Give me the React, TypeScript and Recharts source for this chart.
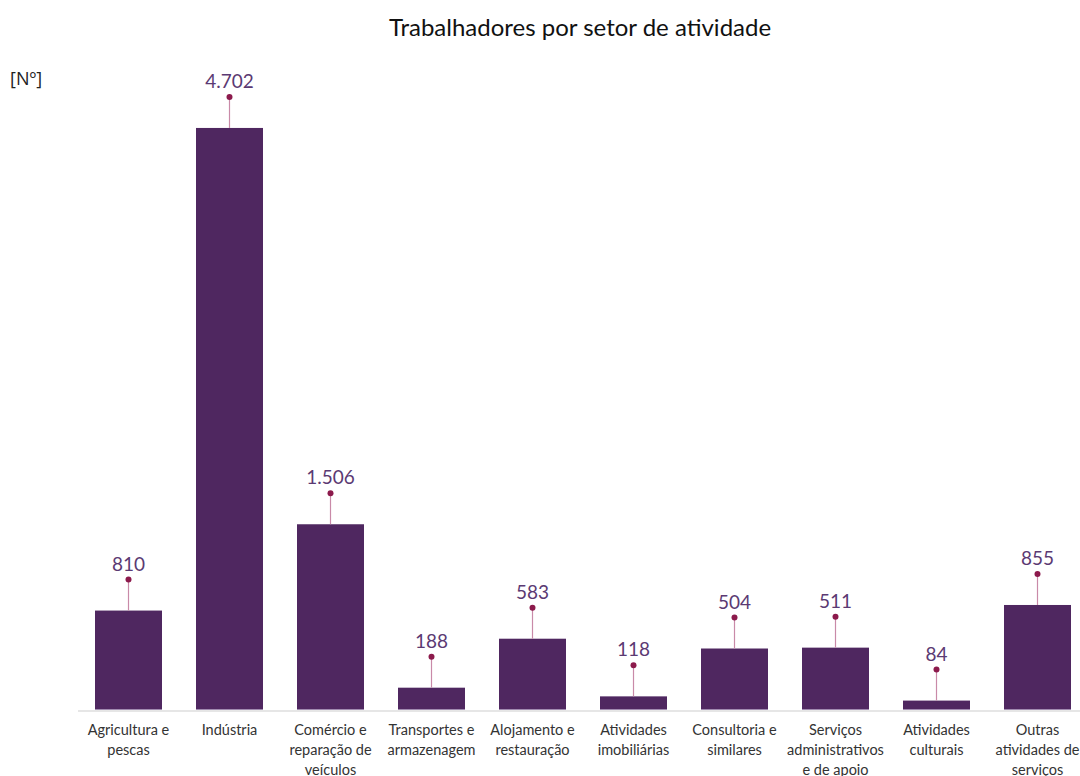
import React from 'react';
import { BarChart, Bar, XAxis, YAxis, LabelList } from 'recharts';

const categories = [
  'Agricultura e\npescas',
  'Indústria',
  'Comércio e\nreparação de\nveículos',
  'Transportes e\narmazenagem',
  'Alojamento e\nrestauração',
  'Atividades\nimobiliárias',
  'Consultoria e\nsimilares',
  'Serviços\nadministrativos\ne de apoio',
  'Atividades\nculturais',
  'Outras\natividades de\nserviços',
];
const values = [810, 4702, 1506, 188, 583, 118, 504, 511, 84, 855];
const valueLabels = ['810', '4.702', '1.506', '188', '583', '118', '504', '511', '84', '855'];

const data = categories.map((c, i) => ({ name: c, value: values[i], label: valueLabels[i] }));

const FONT = 'Lato, "Open Sans", sans-serif';

const Tick = (props: any) => {
  const { x, y, payload } = props;
  const lines = String(payload.value).split('\n');
  return (
    <text x={x} y={y} textAnchor="middle" fontFamily={FONT} fontSize={14.5} fill="#333">
      {lines.map((l, i) => (
        <tspan key={i} x={x} dy={i === 0 ? 16 : 20}>{l}</tspan>
      ))}
    </text>
  );
};

const PinLabel = (props: any) => {
  const { x, y, width, index } = props;
  const cx = x + width / 2;
  const dotY = y - 31;
  return (
    <g>
      <line x1={cx} y1={y} x2={cx} y2={dotY} stroke="#c98aa8" strokeWidth={1.2} />
      <circle cx={cx} cy={dotY} r={3} fill="#8c1a4c" />
      <text x={cx} y={dotY - 9} textAnchor="middle" fontFamily={FONT} fontSize={19} fill="#5b3a73">
        {valueLabels[index]}
      </text>
    </g>
  );
};

const BarShape = (props: any) => {
  const { x, y, width, height } = props;
  return (
    <g>
      <rect x={x} y={y} width={width} height={height} fill="#4f2760" />
      <rect x={x} y={y + height - 2} width={width} height={2} fill="#a08ab0" />
    </g>
  );
};

export default function App() {
  return (
    <div style={{ position: 'absolute', left: 0, top: 0, width: 1080, height: 776, overflow: 'hidden', background: '#fff' }}>
      <div style={{ position: 'absolute', left: 0, top: 12, width: 1160, textAlign: 'center', fontFamily: FONT, fontSize: 24, color: '#111' }}>
        Trabalhadores por setor de atividade
      </div>
      <div style={{ position: 'absolute', left: 10, top: 66, fontFamily: '"Open Sans", sans-serif', fontSize: 18, color: '#222' }}>[Nº]</div>
      <div style={{ position: 'absolute', left: 0, top: 0 }}>
        <BarChart width={1100} height={776} data={data} margin={{ top: 91, right: 12, bottom: 35, left: 78 }} barSize={67}>
          <XAxis dataKey="name" height={30} interval={0} tick={<Tick />} tickLine={false} axisLine={{ stroke: '#e6e6e6', strokeWidth: 2 }} />
          <YAxis hide domain={[0, 5000]} />
          <Bar dataKey="value" isAnimationActive={false} shape={<BarShape />}>
            <LabelList dataKey="value" content={<PinLabel />} />
          </Bar>
        </BarChart>
      </div>
    </div>
  );
}
